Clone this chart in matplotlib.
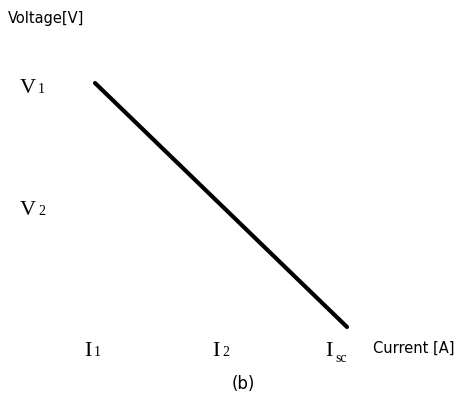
import matplotlib.pyplot as plt

# operating points on the I-V line
current = [1, 2, 3]
voltage = [2, 1, 0]
current_names = [("I", "1"), ("I", "2"), ("I", "sc")]
voltage_names = [("V", "1"), ("V", "2")]

serif = ["Liberation Serif", "DejaVu Serif"]

fig = plt.figure(figsize=(4.69, 4.12), dpi=100)
ax = fig.add_axes([0, 0, 1, 1])
ax.set_xlim(1 - 95 / 126, 1 + 374 / 126)
ax.set_ylim(-85 / 122, 2 + 83 / 122)
ax.axis("off")

ax.plot(current, voltage, color="black", lw=3, solid_capstyle="round")


def label(x, y, main, sub, dx, dy, sub_dy=0):
    ax.annotate(main, (x, y), xytext=(dx, dy), textcoords="offset pixels",
                ha="right", va="baseline", fontsize=16, family=serif)
    ax.annotate(sub, (x, y), xytext=(dx + 2, dy + sub_dy), textcoords="offset pixels",
                ha="left", va="baseline", fontsize=10, family=serif)


for x, (m, s), dx in zip(current, current_names, [-3, -1, -14]):
    label(x, voltage[-1], m, s, dx, -29, -6 if s == "sc" else 0)

for y, (m, s) in zip(voltage, voltage_names):
    label(current[0], y, m, s, -59, -10)

ax.annotate("Voltage[V]", (current[0], voltage[0]), xytext=(-87, 60),
            textcoords="offset pixels", ha="left", va="baseline", fontsize=10.5)
ax.annotate("Current [A]", (current[-1], voltage[-1]), xytext=(26, -26),
            textcoords="offset pixels", ha="left", va="baseline", fontsize=10.5)

fig.text(243 / 469, 1 - 384 / 412, "(b)", ha="center", va="center", fontsize=12)

fig.savefig("out.png", dpi=100)
